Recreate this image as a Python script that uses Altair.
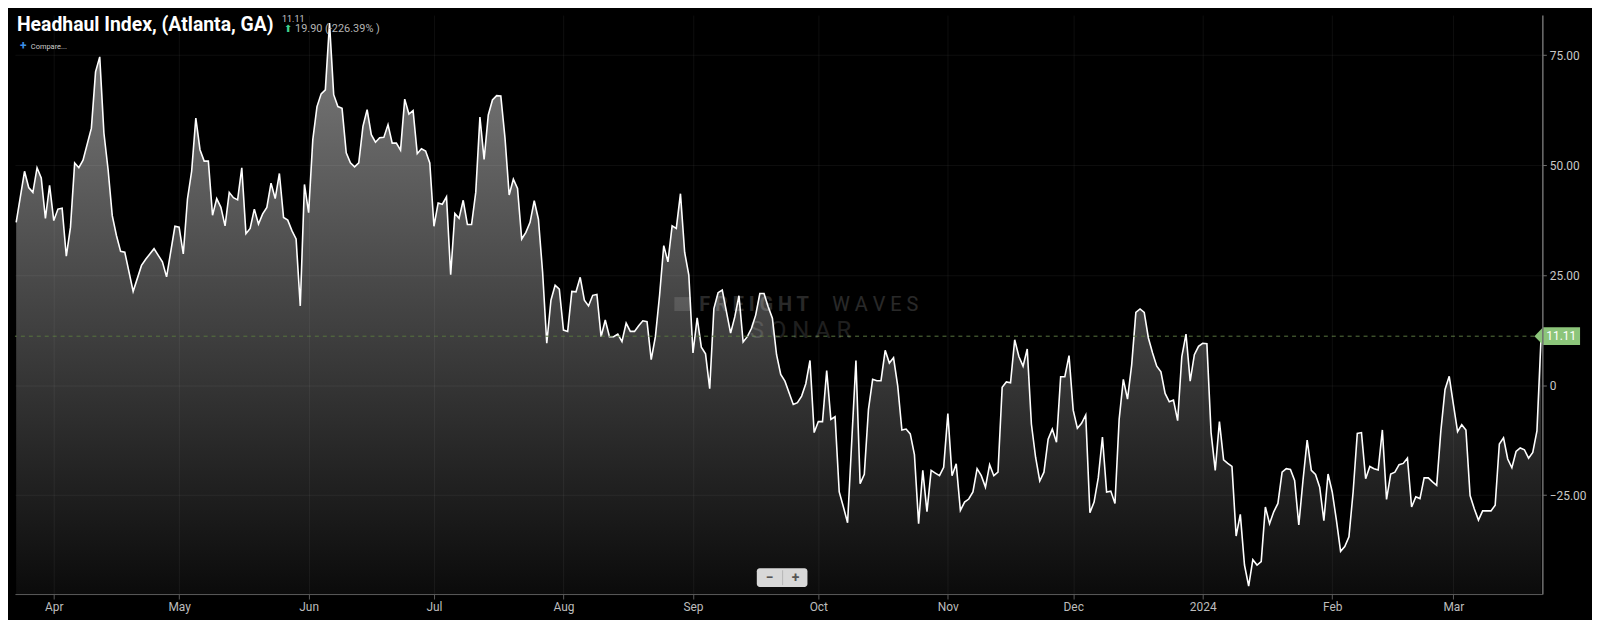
import altair as alt
import pandas as pd

# ---------------- data ----------------
BASE_DATE = "2023-04-01"

# first stretch: explicit day offsets from BASE_DATE
DAYS_A = [-9, -7, -6, -5, -4, -3, -2, -1, 0, 1, 2, 3, 4, 5, 6, 7, 9, 10, 11, 12,
          13, 14, 15, 16, 17, 19, 21, 22, 24, 26, 27, 29, 30, 31, 32, 33, 34, 35, 36, 37]
VALUES_A = [37.0, 48.6, 44.9, 43.8, 49.4, 47.1, 37.9, 45.4, 37.4, 40.0, 40.2, 29.3,
            35.9, 50.5, 49.4, 51.1, 58.4, 71.2, 74.6, 57.3, 49.0, 38.5, 34.0, 30.4,
            30.2, 21.3, 27.2, 28.6, 31.0, 28.0, 24.6, 36.1, 35.9, 29.8, 42.3, 48.6,
            60.7, 53.5, 50.9, 50.9]

# daily stretches: (first day offset, values)
START_B = 38
VALUES_B = [38.6, 42.4, 40.4, 36.2, 43.8, 42.6, 42.1, 49.4, 34.4, 35.6,
            40.0, 36.6, 38.9, 40.4, 45.9, 42.4, 48.1, 38.1, 37.5, 35.1,
            33.2, 18.0, 45.6, 39.2, 55.8, 63.3, 66.2, 67.1, 82.3, 66.0,
            63.3, 62.9, 52.8, 50.5, 49.6, 50.5, 58.8, 62.6, 56.9, 55.2,
            56.2, 56.3, 59.2, 55.0, 55.0, 53.4]
START_C = 84
VALUES_C = [65.0, 61.6, 62.4, 52.6, 53.7, 53.2, 50.5, 36.1, 41.4, 41.1,
            42.8, 25.1, 39.0, 37.9, 42.0, 36.5, 36.5, 43.8, 60.9, 51.3,
            61.4, 64.8, 65.8, 65.7, 56.2, 43.2, 46.8, 44.7, 33.2, 34.7,
            37.0, 41.9, 37.7, 25.7, 9.5, 19.3, 22.7, 21.8, 12.5, 12.2,
            21.3, 21.2, 24.5, 19.3, 18.0, 20.4]
START_D = 130
VALUES_D = [20.6, 11.0, 14.8, 11.0, 11.0, 11.6, 9.9, 14.1, 12.2, 12.2,
            13.5, 14.6, 14.4, 5.8, 11.0, 20.4, 31.7, 28.0, 36.2, 35.6,
            43.5, 30.2, 25.0, 7.3, 15.3, 8.6, 7.1, -0.8, 17.4, 21.0,
            21.6, 16.7, 11.8, 15.5, 20.3, 9.8, 11.0, 12.9, 15.9, 20.8,
            20.8, 17.8, 15.2, 6.9, 2.4, 0.9]
START_E = 177
VALUES_E = [-4.4, -4.0, -2.5, 0.3, 5.6, -10.8, -8.3, -8.3, 3.3, -7.8,
            -7.2, -24.3, -27.7, -31.3, -12.7, 5.6, -22.4, -20.3, -5.5, 1.3,
            1.0, 1.0, 7.9, 5.0, 6.2, -0.2, -10.2, -10.0, -11.1, -15.8,
            -31.5, -19.4, -28.8, -19.4, -20.0, -20.6, -18.7, -6.5, -20.6, -17.9,
            -28.5, -26.6, -25.9, -24.3]
START_F = 221
VALUES_F = [-19.0, -20.6, -23.2, -18.1, -20.6, -19.8, -0.5, 0.7, 0.5, 10.3,
            6.5, 4.3, 8.2, -8.9, -16.4, -21.8, -19.8, -12.3, -10.0, -13.0,
            1.9, 1.9, 6.7, -5.7, -9.8, -8.7, -6.8, -29.0, -26.6, -21.1,
            -11.8, -24.3, -24.1, -26.9, -7.8, 1.3, -3.2, 4.6, 16.5, 17.3,
            16.5, 10.7, 7.3, 4.3, 3.0, -1.9]
START_G = 267
VALUES_G = [-3.8, -3.4, -8.1, 6.5, 11.6, 0.9, 6.9, 8.8, 9.5, 9.4,
            -10.8, -19.4, -8.3, -17.0, -17.8, -18.5, -34.3, -29.4, -40.9, -45.7,
            -39.7, -40.9, -40.1, -27.7, -31.5, -28.8, -26.9, -19.8, -19.0, -19.2,
            -21.7, -31.8, -21.7, -12.5, -19.4, -20.3, -23.2, -30.8, -20.2, -24.3,
            -30.7, -37.8, -36.7, -34.5, -24.3]
START_H = 312
VALUES_H = [-11.0, -10.8, -21.3, -18.5, -19.0, -19.3, -10.2, -26.0, -20.2, -19.8,
            -18.1, -17.8, -16.6, -27.7, -25.4, -25.8, -21.1, -21.1, -22.0, -22.8,
            -10.4, -1.0, 2.0, -4.4, -10.6, -9.0, -10.2, -25.1, -28.1, -30.7,
            -28.6, -28.6, -28.6, -27.3, -13.4, -12.0, -16.8, -18.8, -15.1, -14.3,
            -14.7, -16.6, -15.3, -10.4, 11.11]

Y_TICKS = [-25, 0, 25, 50, 75]
MONTH_TICKS = [(2023, 4), (2023, 5), (2023, 6), (2023, 7), (2023, 8), (2023, 9),
               (2023, 10), (2023, 11), (2023, 12), (2024, 1), (2024, 2), (2024, 3)]

TITLE = "Headhaul Index, (Atlanta, GA)"
CHANGE_TEXT = "19.90 (-226.39% )"
PREV_TEXT = "11.11"
COMPARE_TEXT = "Compare..."

# ---------------- build table ----------------
days = list(DAYS_A)
vals = list(VALUES_A)
for start, seg in [(START_B, VALUES_B), (START_C, VALUES_C), (START_D, VALUES_D),
                   (START_E, VALUES_E), (START_F, VALUES_F), (START_G, VALUES_G),
                   (START_H, VALUES_H)]:
    days += list(range(start, start + len(seg)))
    vals += seg
dates = (pd.Timestamp(BASE_DATE) + pd.to_timedelta(days, unit="D")).strftime("%Y-%m-%d")
df = pd.DataFrame({"date": list(dates), "value": vals})
LAST_VALUE = vals[-1]

DUMMY = pd.DataFrame({"k": [0]})

W, H = 1538, 583
Y_MIN, Y_MAX = -47.5, 84.1
FONT = "Roboto"

xscale = alt.Scale(
    type="utc",
    domain=[alt.DateTime(year=2023, month=3, date=22, hours=17, utc=True),
            alt.DateTime(year=2024, month=3, date=22, hours=7, utc=True)],
)
yscale = alt.Scale(domain=[Y_MIN, Y_MAX], nice=False, zero=False)

xaxis = alt.Axis(
    values=[alt.DateTime(year=y, month=m, date=1, utc=True) for y, m in MONTH_TICKS],
    labelExpr="utcFormat(datum.value, '%m') == '01' ? utcFormat(datum.value, '%Y') : utcFormat(datum.value, '%b')",
    title=None, grid=True, gridColor="#ffffff", gridOpacity=0.06,
    domainColor="#5c5c5c", tickColor="#5c5c5c", tickSize=5, labelPadding=3,
    labelColor="#bdbdbd", labelFontSize=12, labelFont=FONT, labelFlush=False,
    labelOverlap=False, zindex=1,
)
yaxis = alt.Axis(
    orient="right", values=Y_TICKS,
    labelExpr="datum.value == 0 ? '0' : format(datum.value, '.2f')",
    title=None, grid=True, gridColor="#ffffff", gridOpacity=0.06,
    domainColor="#707070", domainWidth=1.5, tickColor="#707070", tickSize=4,
    labelPadding=3, labelColor="#c8c8c8", labelFontSize=12, labelFont=FONT,
    labelFlush=False, zindex=1,
)

GRADIENT = {
    "gradient": "linear", "x1": 0, "x2": 0, "y1": 1, "y2": 0,
    "stops": [{"offset": 0, "color": "#0b0b0b"}, {"offset": 1, "color": "#7c7c7c"}],
}

area = alt.Chart(df).mark_area(color=GRADIENT, interpolate="linear").encode(
    x=alt.X("date:T", scale=xscale, axis=xaxis),
    y=alt.Y("value:Q", scale=yscale, axis=yaxis, stack=None),
    y2=alt.datum(Y_MIN),
)
line = alt.Chart(df).mark_line(color="#ffffff", strokeWidth=1.6, interpolate="linear").encode(
    x=alt.X("date:T"),
    y=alt.Y("value:Q"),
)

rule = alt.Chart(DUMMY).mark_rule(color="#58763f", strokeDash=[4, 4], strokeWidth=1).encode(
    y=alt.datum(LAST_VALUE)
)

BADGE_PATH = "M -1 0 L -0.62 -0.39 L 1 -0.39 L 1 0.39 L -0.62 0.39 Z"
badge = alt.Chart(DUMMY).mark_point(
    shape=BADGE_PATH, size=2116, filled=True, color="#8cc57a", opacity=1, strokeWidth=0
).encode(x=alt.value(W + 15), y=alt.datum(LAST_VALUE))
badge_text = alt.Chart(DUMMY).mark_text(
    text=f"{LAST_VALUE:.2f}", color="#ffffff", fontSize=12, align="center",
    baseline="middle", font=FONT
).encode(x=alt.value(W + 19), y=alt.datum(LAST_VALUE))


def txt(text, x, y, size, color, weight="normal", align="left", opacity=1.0,
        baseline="alphabetic", font=FONT):
    return alt.Chart(DUMMY).mark_text(
        text=text, fontSize=size, color=color, fontWeight=weight, align=align,
        baseline=baseline, font=font, opacity=opacity
    ).encode(x=alt.value(x), y=alt.value(y))


title = txt(TITLE, 2, 16, 19.5, "#ffffff", weight="bold")
prev = txt(PREV_TEXT, 269, 7, 9, "#cfcfcf")
arrow = txt("\u2b06", 271, 17, 10, "#3ecf8e", font="DejaVu Sans")
change = txt(CHANGE_TEXT, 282, 17, 11, "#b4b4b4")
plus = txt("+", 5, 35, 12, "#3b8fe8", weight="bold")
compare = txt(COMPARE_TEXT, 16, 34, 7.5, "#cfcfcf")

# watermark
wm_icon = alt.Chart(DUMMY).mark_rect(color="#ffffff", opacity=0.12).encode(
    x=alt.value(664), x2=alt.value(681), y=alt.value(284), y2=alt.value(298)
)
wm1 = txt("F R E I G H T", 689, 298, 20, "#ffffff", weight="bold", opacity=0.16)
wm2 = txt("W A V E S", 823, 298, 20, "#ffffff", opacity=0.16)
wm3 = txt("S  O  N  A  R", 740, 325, 24, "#ffffff", opacity=0.12)

# zoom buttons
zbox = alt.Chart(DUMMY).mark_rect(color="#d8d8d8", cornerRadius=3).encode(
    x=alt.value(747), x2=alt.value(798), y=alt.value(H - 26), y2=alt.value(H - 7)
)
zdiv = alt.Chart(DUMMY).mark_rule(color="#b5b5b5").encode(
    x=alt.value(773), y=alt.value(H - 24), y2=alt.value(H - 9)
)
zminus = txt("\u2212", 760, H - 16, 14, "#555555", weight="bold", align="center", baseline="middle")
zplus = txt("+", 786, H - 16, 14, "#555555", weight="bold", align="center", baseline="middle")

chart = alt.layer(
    area, line, rule, badge, badge_text,
    title, prev, arrow, change, plus, compare,
    wm_icon, wm1, wm2, wm3, zbox, zdiv, zminus, zplus,
).properties(
    width=W, height=H, background="#000000"
).configure_view(stroke=None)

chart.save("out.html", embed_options={"renderer": "svg", "actions": False})
